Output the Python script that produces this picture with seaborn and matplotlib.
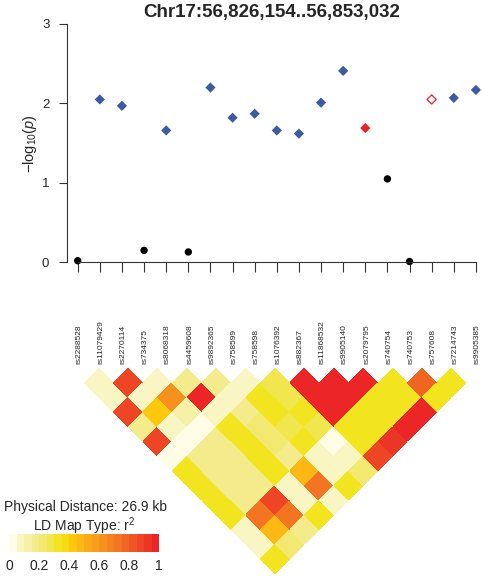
import numpy as np
import pandas as pd
import matplotlib
matplotlib.use('Agg')
import matplotlib.pyplot as plt
import matplotlib.cm as cm
import seaborn as sns
from matplotlib.colors import ListedColormap, Normalize
from matplotlib.transforms import Affine2D, blended_transform_factory

# SNPs along the region, in plot order
snps = ['rs2288528', 'rs11079429', 'rs2270114', 'rs734375', 'rs8068318',
        'rs4459608', 'rs9892365', 'rs758599', 'rs758598', 'rs1076392',
        'rs882367', 'rs11868532', 'rs9905140', 'rs2079795', 'rs740754',
        'rs740753', 'rs757608', 'rs7214743', 'rs9905385']
neglogp = [0.02, 2.05, 1.97, 0.15, 1.66, 0.13, 2.20, 1.82, 1.87, 1.66,
           1.62, 2.01, 2.41, 1.69, 1.05, 0.01, 2.05, 2.07, 2.17]
# none = not in LD map, ld = in LD map, top = best hit, proxy = open marker
snp_kind = ['none', 'ld', 'ld', 'none', 'ld', 'none', 'ld', 'ld', 'ld', 'ld',
            'ld', 'ld', 'ld', 'top', 'none', 'none', 'proxy', 'ld', 'ld']

# LD map (r^2), upper triangle row by row, for the 14 SNPs that are in it
ld_snps = [s for s, k in zip(snps, snp_kind) if k != 'none']
ld_r2 = [
    [0.08, 0.08, 0.86, 0.18, 0.86, 0.03, 0.30, 0.30, 0.30, 0.30, 0.08, 0.08, 0.30],
    [0.86, 0.08, 0.42, 0.08, 0.02, 0.18, 0.18, 0.18, 0.18, 0.70, 0.47, 0.20],
    [0.08, 0.60, 0.10, 0.02, 0.15, 0.15, 0.15, 0.17, 0.86, 0.70, 0.17],
    [0.17, 0.97, 0.08, 0.30, 0.30, 0.30, 0.30, 0.08, 0.08, 0.30],
    [0.17, 0.08, 0.15, 0.20, 0.20, 0.15, 0.47, 0.70, 0.08],
    [0.08, 0.30, 0.30, 0.28, 0.30, 0.08, 0.08, 0.30],
    [0.27, 0.28, 0.30, 0.28, 0.02, 0.08, 0.22],
    [0.97, 0.97, 0.97, 0.30, 0.30, 0.86],
    [0.97, 0.97, 0.30, 0.30, 0.90],
    [0.97, 0.30, 0.30, 0.95],
    [0.30, 0.30, 0.95],
    [0.78, 0.30],
    [0.30],
]
cbar_ticks = [0, 0.2, 0.4, 0.6, 0.8, 1]
cbar_ticklabels = ['0', '0.2', '0.4', '0.6', '0.8', '1']

ld_colors = ['#FFFDE6', '#FAF6C4', '#F7F1A8', '#F4EC8C', '#F3E970',
             '#F2E64E', '#F2E41E', '#F7DA14', '#FFC80C', '#FDB814',
             '#FBA919', '#F99D1C', '#F7911E', '#F5821F', '#F37421',
             '#F16522', '#EF5623', '#EE4624', '#EC3625', '#EC2526']
cmap = ListedColormap(ld_colors)

sns.set_style('ticks')
plt.rcParams['font.family'] = ['Liberation Sans', 'DejaVu Sans']
plt.rcParams['mathtext.fontset'] = 'custom'
plt.rcParams['mathtext.rm'] = 'Liberation Sans'
plt.rcParams['mathtext.it'] = 'Liberation Sans:italic'
plt.rcParams['mathtext.bf'] = 'Liberation Sans:bold'

W, H = 483, 577
fig = plt.figure(figsize=(W / 100, H / 100), dpi=100)

# ---- association plot
df = pd.DataFrame({'snp': snps, 'pos': np.arange(1, len(snps) + 1),
                   'neglogp': neglogp, 'kind': snp_kind})

ax = fig.add_axes([66.7 / W, 1 - 262.3 / H, (W - 66.7) / W, (262.3 - 24) / H])
sns.scatterplot(data=df[df.kind == 'none'], x='pos', y='neglogp', ax=ax,
                color='black', marker='o', s=28, edgecolor='none', clip_on=False)
sns.scatterplot(data=df[df.kind == 'ld'], x='pos', y='neglogp', ax=ax,
                color='#3B5AA3', marker='D', s=27, edgecolor='none', clip_on=False)
sns.scatterplot(data=df[df.kind == 'top'], x='pos', y='neglogp', ax=ax,
                color='#E8202A', marker='D', s=27, edgecolor='none', clip_on=False)
sns.scatterplot(data=df[df.kind == 'proxy'], x='pos', y='neglogp', ax=ax,
                marker='D', s=22, facecolor='none', edgecolor='#E8202A',
                linewidth=0.9, clip_on=False)

ax.set_xlim(0.503, 19.32)
ax.set_ylim(0, 3)
ax.set_xticks(df.pos)
ax.set_xticklabels([])
ax.set_yticks([0, 1, 2, 3])
ax.set_yticklabels(['0', '1', '2', '3'])
ax.set_xlabel('')
ax.set_ylabel(r'$-\mathrm{log}_{10}(\mathit{p})$', fontsize=10.5)
ax.yaxis.set_label_coords(-0.066, 0.5)
for side in ['top', 'right']:
    ax.spines[side].set_visible(False)
ax.spines['left'].set_bounds(0, 3)
ax.spines['bottom'].set_bounds(1, len(snps))
for side in ['left', 'bottom']:
    ax.spines[side].set_color('#333333')
    ax.spines[side].set_linewidth(0.8)
ax.tick_params(axis='y', length=6, width=0.8, color='#333333', pad=6.5, labelsize=9.5)
ax.tick_params(axis='x', length=7.2, width=0.8, color='#333333')

fig.text(272 / W, 1 - 16.7 / H, 'Chr17:56,826,154..56,853,032',
         ha='center', va='baseline', fontsize=13.5, fontweight='bold')

# SNP names under the axis
trans = blended_transform_factory(ax.transData, fig.transFigure)
for p, name in zip(df.pos, df.snp):
    ax.text(p + 0.05, 1 - 363.5 / H, name, transform=trans, rotation=90,
            ha='center', va='bottom', fontsize=6)

# ---- LD triangle
n = len(ld_snps)
mat = np.full((n, n), np.nan)
for i, row in enumerate(ld_r2):
    mat[i, i + 1:] = row
ld_df = pd.DataFrame(mat, index=ld_snps, columns=ld_snps)

ax_ld = fig.add_axes([84 / W, 1 - 573.8 / H, 382 / W, 205.8 / H])
sns.heatmap(ld_df, mask=ld_df.isna(), cmap=cmap, vmin=0, vmax=1, cbar=False,
            linewidths=0, xticklabels=False, yticklabels=False, ax=ax_ld)
mesh = ax_ld.collections[0]
# turn the square matrix into the diamond layout
mesh.set_transform(Affine2D.from_values(0.5, 0.5, 0.5, -0.5, -0.5, 0) + ax_ld.transData)
mesh.set_clip_on(False)
ax_ld.set_xlim(0, n - 1)
ax_ld.set_ylim(n / 2, 0)
ax_ld.axis('off')

# ---- legend
fig.text(85 / W, 1 - 506.7 / H, 'Physical Distance: 26.9 kb', ha='center',
         va='center', fontsize=10)
fig.text(84 / W, 1 - 526 / H, 'LD Map Type: r$^2$', ha='center',
         va='center', fontsize=10)
cax = fig.add_axes([9.3 / W, 1 - 552.3 / H, 150 / W, 18 / H])
cb = fig.colorbar(cm.ScalarMappable(norm=Normalize(0, 1), cmap=cmap), cax=cax,
                  orientation='horizontal', ticks=cbar_ticks)
cb.outline.set_visible(False)
cb.ax.set_xticklabels(cbar_ticklabels)
cax.tick_params(length=0, labelsize=10, pad=5)

fig.savefig('out.png', dpi=100)
plt.close(fig)
